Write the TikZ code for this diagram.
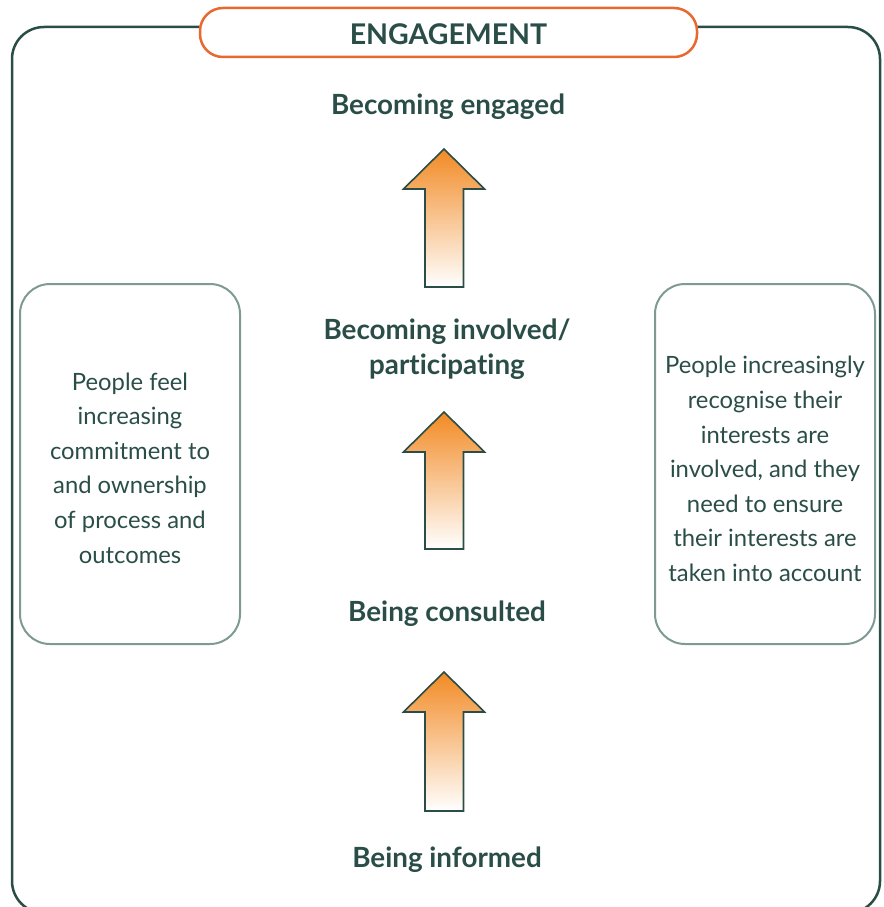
\documentclass[tikz,border=0pt]{standalone}
\usepackage{fontspec}
\setmainfont{Lato}[Ligatures=NoCommon]
\usepackage{tikz}
\usetikzlibrary{shapes,arrows}

\definecolor{darkteal}{HTML}{2A4E47}
\definecolor{boxgrey}{HTML}{7E9A93}
\definecolor{titleorange}{HTML}{E8692F}
\definecolor{arroworange}{HTML}{F28A24}

\begin{document}
\begin{tikzpicture}[x=1pt, y=-1pt]

    \tikzstyle{frame}=[draw=darkteal, line width=2.5pt, rounded corners=32pt];
    \tikzstyle{titlebox}=[draw=titleorange, fill=white, line width=2.5pt, rounded corners=23pt,
        minimum width=497pt, minimum height=49pt];
    \tikzstyle{titletext}=[text=darkteal, font=\fontsize{28.5}{32}\selectfont\bfseries];
    \tikzstyle{stage}=[align=center, text=darkteal, font=\fontsize{27.8}{35}\selectfont\bfseries];
    \tikzstyle{notebox}=[draw=boxgrey, line width=2pt, rounded corners=30pt,
        minimum width=220pt, minimum height=360pt];
    \tikzstyle{notetext}=[align=center, text=darkteal, font=\fontsize{23.8}{34.6}\selectfont];
    \tikzstyle{blockarrow}=[draw=darkteal, line width=1.6pt, line join=miter,
        top color=arroworange, middle color=arroworange!55, bottom color=white];

    \useasboundingbox (0,0) rectangle (883,907);

    % outer frame, its bottom runs off the page
    \draw [frame] (12,27) rectangle (880,913);

    \node [titlebox] (title) at (448.5,32.5) {};
    \node [titletext] (titlelabel) at (448.5,34.5) {ENGAGEMENT};

    \node [stage] (engaged) at (448,107) {Becoming engaged};
    \node [stage] (involved) at (447,349) {Becoming involved/\\participating};
    \node [stage] (consulted) at (447,614) {Being consulted};
    \node [stage] (informed) at (447,860) {Being informed};

    \node [notebox] (leftnote) at (130,464) {};
    \node [notebox] (rightnote) at (765,464) {};
    \node [notetext] (lefttext) at (130,468)
        {People feel\\increasing\\commitment to\\and ownership\\of process and\\outcomes};
    \node [notetext] (righttext) at (765,469)
        {People increasingly\\recognise their\\interests are\\involved, and they\\need to ensure\\their interests are\\taken into account};

    % block arrows between the stages
    \foreach \tip/\tail in {149/287, 412/549, 672/811} {
        \path [blockarrow] (444,\tip) -- (484.5,\tip+40) -- (463.5,\tip+40) -- (463.5,\tail)
            -- (425,\tail) -- (425,\tip+40) -- (403.5,\tip+40) -- cycle;
    }

\end{tikzpicture}
\end{document}
